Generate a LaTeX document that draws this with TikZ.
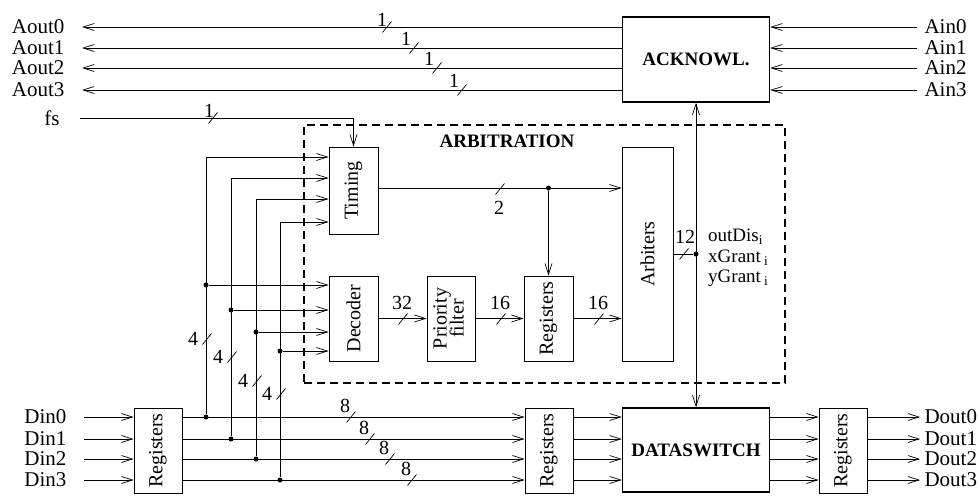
\documentclass[tikz,border=0pt]{standalone}
\usepackage{fontspec}
\setmainfont{Liberation Serif}
\usetikzlibrary{arrows.meta}
\begin{document}
\begin{tikzpicture}[x=1pt,y=-1pt,
  font=\fontsize{20}{21}\selectfont,
  wire/.style={line width=0.7pt},
  arr/.style={wire,-{Straight Barb[length=11pt,width=7pt,line width=0.7pt]}},
  darr/.style={wire,{Straight Barb[length=11pt,width=7pt,line width=0.7pt]}-{Straight Barb[length=11pt,width=7pt,line width=0.7pt]}},
  box/.style={draw,line width=0.8pt,inner sep=0pt},
  bigbox/.style={draw,line width=1.4pt,inner sep=0pt,minimum width=147pt,font=\fontsize{19}{21}\selectfont\bfseries},
  dot/.style={circle,fill,inner sep=0pt,minimum size=5pt},
  num/.style={inner sep=0pt},
  lab/.style={font=\fontsize{21}{22}\selectfont},
  busmark/.pic={\draw[line width=0.7pt] (-4.5,5.5) -- (4.5,-5.5);}
]
\useasboundingbox (0,0) rectangle (980,496);

% boxes
\node[bigbox,minimum height=85pt] (ack) at (696,59.5) {ACKNOWL.};
\node[bigbox,minimum height=84pt] (dsw) at (696,450) {DATASWITCH};
\node[box,minimum width=49pt,minimum height=87pt] (tim) at (353.5,190.5) {\rotatebox{90}{Timing}};
\node[box,minimum width=49pt,minimum height=85pt] (dec) at (353.5,318.5) {\rotatebox{90}{Decoder}};
\node[box,minimum width=48pt,minimum height=85pt] (pri) at (451,318.5) {\rotatebox{90}{\begin{tabular}{@{}c@{}}Priority\\[-4pt]filter\end{tabular}}};
\node[box,minimum width=49pt,minimum height=85pt] (rega) at (548.5,318.5) {\rotatebox{90}{Registers}};
\node[box,minimum width=51pt,minimum height=214pt] (arb) at (647.5,254) {\rotatebox{90}{Arbiters}};
\node[box,minimum width=48pt,minimum height=85pt] (regl) at (158,450.5) {\rotatebox{90}{Registers}};
\node[box,minimum width=48pt,minimum height=85pt] (regm) at (549,450.5) {\rotatebox{90}{Registers}};
\node[box,minimum width=48pt,minimum height=85pt] (regr) at (843,450.5) {\rotatebox{90}{Registers}};
\node[draw,line width=2.2pt,dash pattern=on 8pt off 5pt,inner sep=0pt,minimum width=481pt,minimum height=258pt] (arbit) at (544.5,254) {};
\node[inner sep=0pt,font=\fontsize{19}{21}\selectfont\bfseries] (arbt) at (507,141) {ARBITRATION};

% Aout / Ain
\foreach \k/\y/\sx/\lx/\ly in {0/27/387/382/20,1/48/414/406/39,2/68/437/429/59,3/90/462/454/81} {
  \coordinate (ao\k) at (82,\y);
  \node[lab,anchor=east] (aol\k) at (68,\y) {Aout\k};
  \draw[arr] (ack.west |- ao\k) -- (ao\k);
  \pic at (\sx,\y) {busmark};
  \node[num] (aon\k) at (\lx,\ly) {1};
  \coordinate (ai\k) at (917,\y);
  \node[lab,anchor=west] (ail\k) at (921,\y) {Ain\k};
  \draw[arr] (ai\k) -- (ack.east |- ai\k);
}

% fs
\node[lab,anchor=east] (fsl) at (63,118) {fs};
\coordinate (fs0) at (80,118);
\draw[arr] (fs0) -| (tim.north);
\pic at (213,118) {busmark};
\node[num] (fsn) at (209,111) {1};

% acknowledge <-> dataswitch
\draw[darr] (ack.south) -- (dsw.north);

% inputs, verticals, Din rows
\foreach \k/\x/\yt/\yd/\yn/\fx/\fy/\ex/\ey in {
   0/206/157/285/417/207/339/351/417,
   1/231/178/310/439/232/357/370/439,
   2/256/199/332/459/257/381/390/459,
   3/280/222/351/480/281/394/412/480} {
  \coordinate (v\k) at (\x,\yt);
  \draw[arr] (v\k) -- (tim.west |- v\k);
  \node[dot] (dd\k) at (\x,\yd) {};
  \draw[arr] (dd\k) -- (dec.west |- dd\k);
  \node[dot] (dn\k) at (\x,\yn) {};
  \draw[wire] (dn\k) -- (v\k);
  \pic at (\fx,\fy) {busmark};
  \node[num] (fn\k) at ({\fx-14},\fy) {4};
  \node[lab,anchor=east] (dinl\k) at (70,\yn) {Din\k};
  \coordinate (di\k) at (84,\yn);
  \draw[arr] (di\k) -- (regl.west |- di\k);
  \draw[arr] (regl.east |- di\k) -- (regm.west |- di\k);
  \pic at (\ex,\ey) {busmark};
  \node[num] (en\k) at ({\ex-6},{\ey-11}) {8};
  \draw[arr] (regm.east |- di\k) -- (dsw.west |- di\k);
  \draw[arr] (dsw.east |- di\k) -- (regr.west |- di\k);
  \coordinate (do\k) at (920,\yn);
  \draw[arr] (regr.east |- di\k) -- (do\k);
  \node[lab,anchor=west] (doutl\k) at (921,\yn) {Dout\k};
}

% arbitration internals
\node[dot] (tdot) at (548.5,188) {};
\draw[wire] (tim.east |- tdot) -- (tdot);
\draw[arr] (tdot) -- (arb.west |- tdot);
\draw[arr] (tdot) -- (rega.north);
\pic at (500,189) {busmark};
\node[num] (n2) at (499,208) {2};

\draw[arr] (dec.east) -- (pri.west);
\pic at (403,319) {busmark};
\node[num] (n32) at (402,303) {32};
\draw[arr] (pri.east) -- (rega.west);
\pic at (501,319) {busmark};
\node[num] (n16a) at (500,303) {16};
\draw[arr] (rega.east) -- (rega.east -| arb.west);
\pic at (599,319) {busmark};
\node[num] (n16b) at (598,303) {16};

\node[dot] (odot) at (696,254) {};
\draw[wire] (arb.east) -- (odot);
\pic at (684,254) {busmark};
\node[num] (n12) at (685,237) {12};
\node[anchor=west,align=left,inner sep=0pt,font=\fontsize{19}{20.5}\selectfont] (sig) at (708,258) {outDis\textsubscript{i}\\xGrant\,\textsubscript{i}\\yGrant\,\textsubscript{i}};
\end{tikzpicture}
\end{document}
